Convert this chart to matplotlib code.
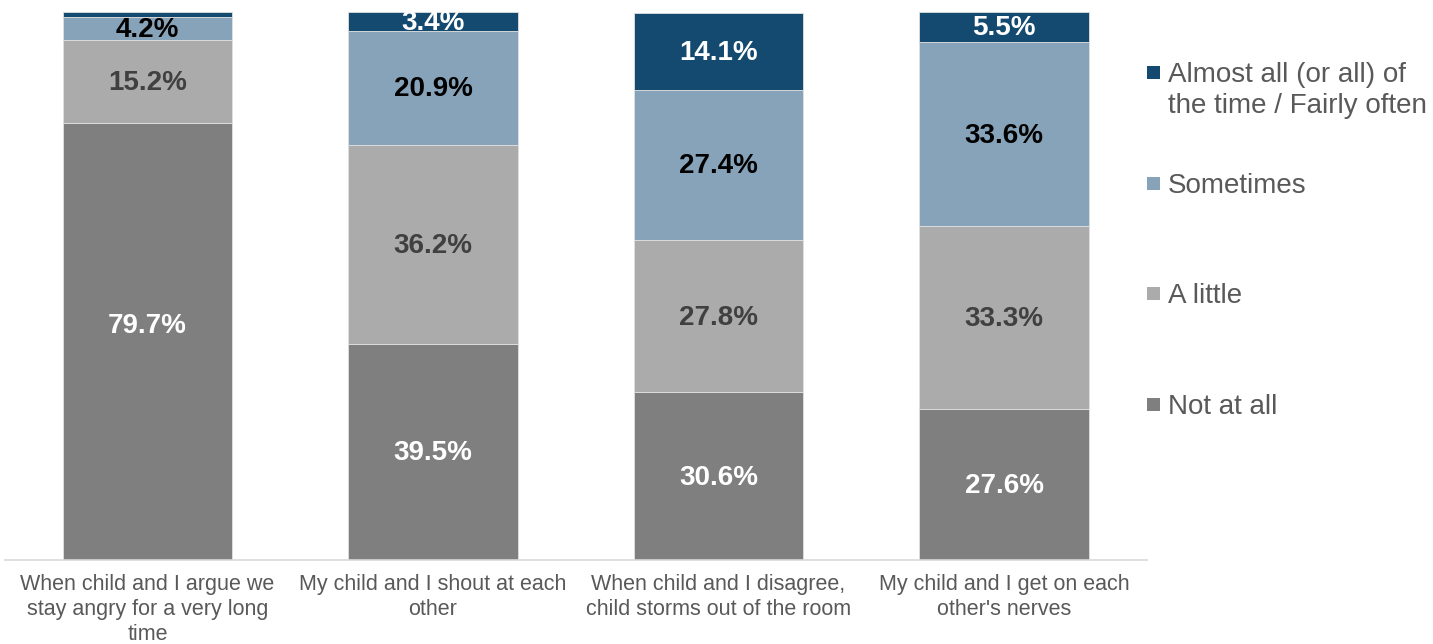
import matplotlib
matplotlib.use("Agg")
import matplotlib.pyplot as plt
from matplotlib.patches import Rectangle
import numpy as np

plt.rcParams['font.family'] = ['Liberation Sans', 'DejaVu Sans']

categories = [
    "When child and I argue we\nstay angry for a very long\ntime",
    "My child and I shout at each\nother",
    "When child and I disagree,\nchild storms out of the room",
    "My child and I get on each\nother's nerves",
]

series_names = [
    "Not at all",
    "A little",
    "Sometimes",
    "Almost all (or all) of\nthe time / Fairly often",
]

not_at_all = [79.7, 39.5, 30.6, 27.6]
a_little = [15.2, 36.2, 27.8, 33.3]
sometimes = [4.2, 20.9, 27.4, 33.6]
almost_all = [0.9, 3.4, 14.1, 5.5]

# whether each segment carries a value label
show_label = [
    [True, True, True, True],
    [True, True, True, True],
    [True, True, True, True],
    [False, True, True, True],
]
# vertical nudge of a label, in points
label_nudge = [
    [12, 0, 0, 0],
    [0, 0, 0, 0],
    [0, 0, 0, 0],
    [0, 0, 0, 0],
]

colors = ["#7F7F7F", "#ABABAB", "#87A3B9", "#144A6F"]
label_colors = ["white", "#404040", "black", "white"]

W, H = 1433, 644
fig = plt.figure(figsize=(W / 100, H / 100), dpi=100)
ax = fig.add_axes([4.75 / W, (H - 560) / H, (1146.75 - 4.75) / W, 548 / H])

x = np.arange(len(categories))
values = [not_at_all, a_little, sometimes, almost_all]
bottom = np.zeros(len(categories))
for si, vals in enumerate(values):
    vals = np.array(vals)
    bars = ax.bar(x, vals, width=0.592, bottom=bottom, color=colors[si],
                  edgecolor="#E0E0E0", linewidth=0.6, zorder=2)
    for i, b in enumerate(bars):
        if show_label[si][i]:
            ax.annotate(f"{vals[i]:.1f}%",
                        (b.get_x() + b.get_width() / 2, bottom[i] + vals[i] / 2),
                        xytext=(0, label_nudge[si][i] - 1),
                        textcoords="offset points",
                        ha="center", va="center",
                        fontsize=20, fontweight="bold", color=label_colors[si],
                        zorder=3)
    bottom += vals

ax.set_xlim(-0.5, len(categories) - 0.5)
ax.set_ylim(0, 100)
ax.set_xticks(x)
ax.set_xticklabels(categories, fontsize=15.5, color="#595959", linespacing=1.24)
ax.tick_params(axis="x", length=0, pad=10)
ax.set_yticks([])
for s in ["left", "right", "top"]:
    ax.spines[s].set_visible(False)
ax.spines["bottom"].set_color("#D9D9D9")
ax.spines["bottom"].set_linewidth(1.2)

# legend, drawn top-down from the last series to the first
legend_y = [72, 183, 293, 404]
for k, si in enumerate(range(3, -1, -1)):
    yc = legend_y[k]
    fig.patches.append(Rectangle((1147 / W, (H - yc - 7) / H), 13 / W, 13 / H,
                                 transform=fig.transFigure,
                                 facecolor=colors[si], edgecolor="none"))
    fig.text(1168 / W, (H - yc) / H, series_names[si].split("\n")[0],
             fontsize=20, color="#595959", ha="left", va="center_baseline")
    if "\n" in series_names[si]:
        fig.text(1168 / W, (H - yc - 31) / H, series_names[si].split("\n")[1],
                 fontsize=20, color="#595959", ha="left", va="center_baseline")

fig.savefig("out.png", dpi=100, facecolor="white")
